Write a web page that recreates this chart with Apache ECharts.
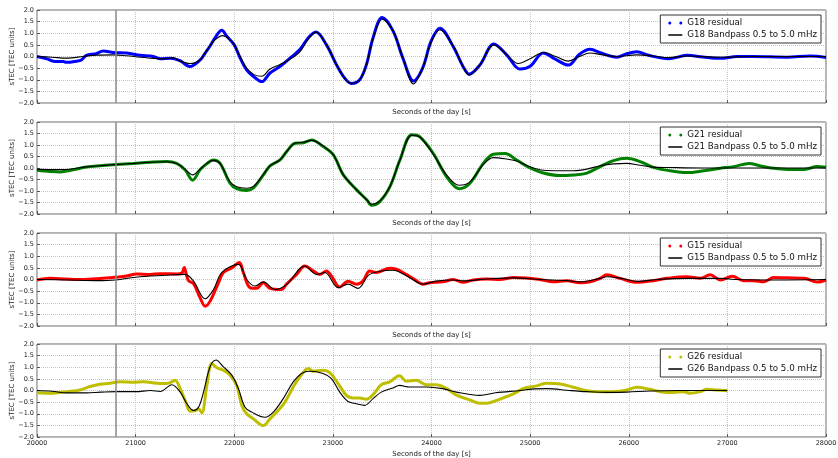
<!DOCTYPE html>
<html>
<head>
<meta charset="utf-8">
<script src="https://cdn.jsdelivr.net/npm/echarts@6/dist/echarts.min.js"></script>
<style>
  html, body { margin: 0; padding: 0; background: #fff; }
  #chart { width: 838px; height: 458px; }
</style>
</head>
<body>
<div id="chart"></div>
<script>
// Satellites (PRN) shown, one panel each, top to bottom
const prns = ['G18', 'G21', 'G15', 'G26'];
const residualColors = ['#0000ff', '#008000', '#ff0000', '#bfbf00'];

// Axis ranges / tick steps
const xMin = 20000, xMax = 28000, xStep = 1000;
const yMin = -2.0, yMax = 2.0, yStep = 0.5;

// Reference epoch marked in every panel
const eventTime = 20800;

// [seconds of day, sTEC residual in TEC units]
const g18Residual = [
  [20000,0.0],[20100,-0.1],[20165,-0.2],[20267,-0.22],[20300,-0.25],[20400,-0.2],[20450,-0.15],
  [20500,0.05],[20600,0.12],[20670,0.24],[20775,0.17],[20910,0.15],[21045,0.05],[21180,0.0],
  [21250,-0.1],[21350,-0.07],[21450,-0.18],[21550,-0.43],[21655,-0.15],[21705,0.15],[21755,0.45],
  [21805,0.8],[21873,1.13],[21925,0.87],[22000,0.5],[22060,-0.07],[22125,-0.57],[22195,-0.86],
  [22280,-1.08],[22360,-0.72],[22463,-0.43],[22565,-0.07],[22665,0.3],[22750,0.8],[22828,1.05],
  [22935,0.5],[23036,-0.35],[23120,-0.93],[23188,-1.16],[23272,-1.0],[23340,-0.35],[23407,0.8],
  [23500,1.68],[23610,1.1],[23710,-0.07],[23818,-1.05],[23910,-0.5],[23995,0.65],[24085,1.22],
  [24220,0.43],[24321,-0.44],[24382,-0.76],[24490,-0.37],[24633,0.54],[24762,0.07],[24897,-0.54],
  [25000,-0.42],[25134,0.15],[25250,-0.1],[25388,-0.37],[25500,0.1],[25608,0.31],[25720,0.15],
  [25879,-0.03],[25980,0.12],[26082,0.2],[26200,0.05],[26403,-0.1],[26590,0.05],[26750,-0.02],
  [26928,-0.08],[27100,0.0],[27266,0.0],[27605,-0.03],[27840,0.02],[28000,-0.04]
];
const g18Bandpass = [
  [20000,0.0],[20150,-0.03],[20300,-0.07],[20470,0.0],[20600,0.06],[20775,0.07],[20910,0.03],
  [21045,-0.03],[21180,-0.08],[21280,-0.1],[21380,-0.05],[21450,-0.2],[21550,-0.3],[21650,-0.15],
  [21750,0.45],[21800,0.7],[21880,0.9],[21950,0.75],[22000,0.5],[22060,0.0],[22125,-0.5],
  [22200,-0.78],[22280,-0.85],[22360,-0.55],[22460,-0.35],[22565,-0.12],[22665,0.2],[22750,0.75],
  [22830,1.05],[22935,0.5],[23036,-0.35],[23120,-0.95],[23188,-1.15],[23272,-1.0],[23340,-0.35],
  [23407,0.75],[23500,1.6],[23610,1.1],[23710,-0.07],[23818,-1.18],[23910,-0.5],[23995,0.6],
  [24085,1.15],[24220,0.45],[24321,-0.45],[24382,-0.8],[24490,-0.35],[24633,0.5],[24762,0.08],
  [24880,-0.3],[25000,-0.1],[25134,0.17],[25260,0.0],[25388,-0.2],[25500,0.0],[25608,0.15],
  [25720,0.08],[25879,0.0],[26082,0.07],[26250,0.02],[26403,-0.05],[26590,0.02],[26930,-0.03],
  [27266,0.0],[28000,0.0]
];

const g21Residual = [
  [20000,-0.1],[20132,-0.15],[20233,-0.17],[20368,-0.08],[20500,0.04],[20640,0.1],[20800,0.15],
  [20977,0.2],[21146,0.25],[21315,0.28],[21416,0.2],[21500,-0.08],[21578,-0.53],[21653,-0.08],
  [21720,0.18],[21788,0.35],[21855,0.21],[21957,-0.66],[22025,-0.9],[22126,-0.98],[22194,-0.87],
  [22295,-0.3],[22363,0.09],[22464,0.35],[22532,0.72],[22616,1.08],[22700,1.1],[22785,1.22],
  [22903,0.93],[23005,0.57],[23106,-0.3],[23241,-0.95],[23343,-1.38],[23393,-1.62],[23478,-1.45],
  [23580,-0.8],[23680,0.35],[23800,1.45],[23880,1.36],[24017,0.64],[24152,-0.37],[24280,-0.9],
  [24390,-0.66],[24525,0.2],[24627,0.6],[24745,0.63],[24863,0.35],[25000,0.0],[25134,-0.22],
  [25303,-0.33],[25440,-0.3],[25575,-0.22],[25710,0.06],[25845,0.32],[25980,0.42],[26115,0.28],
  [26250,0.03],[26420,-0.12],[26590,-0.2],[26760,-0.12],[26930,-0.01],[27065,0.06],[27220,0.2],
  [27335,0.09],[27470,-0.01],[27605,-0.06],[27780,-0.06],[27910,0.06],[28000,0.03]
];
const g21Bandpass = [
  [20000,-0.05],[20132,-0.07],[20233,-0.07],[20368,-0.03],[20500,0.05],[20640,0.1],[20800,0.15],
  [20977,0.2],[21146,0.25],[21315,0.27],[21416,0.2],[21500,-0.05],[21578,-0.3],[21653,-0.05],
  [21720,0.2],[21788,0.33],[21855,0.2],[21957,-0.6],[22025,-0.82],[22126,-0.88],[22194,-0.8],
  [22295,-0.28],[22363,0.1],[22464,0.35],[22532,0.72],[22616,1.08],[22700,1.12],[22785,1.2],
  [22903,0.95],[23005,0.57],[23106,-0.3],[23241,-0.95],[23343,-1.38],[23393,-1.58],[23478,-1.42],
  [23580,-0.78],[23680,0.35],[23800,1.42],[23880,1.35],[24017,0.6],[24152,-0.3],[24280,-0.75],
  [24390,-0.6],[24525,0.15],[24627,0.45],[24745,0.4],[24863,0.3],[25000,0.05],[25134,-0.1],
  [25303,-0.12],[25440,-0.12],[25575,-0.05],[25710,0.1],[25845,0.18],[25980,0.2],[26115,0.12],
  [26250,0.04],[26420,0.02],[26760,0.0],[27220,0.0],[28000,0.0]
];

const g15Residual = [
  [20000,-0.02],[20132,0.05],[20300,0.02],[20470,0.0],[20640,0.04],[20800,0.1],[20910,0.15],
  [21010,0.24],[21146,0.22],[21250,0.25],[21420,0.24],[21470,0.28],[21493,0.52],[21515,0.2],
  [21536,-0.05],[21587,-0.18],[21654,-0.79],[21705,-1.15],[21755,-0.93],[21840,-0.14],[21890,0.3],
  [21975,0.5],[22052,0.73],[22092,0.3],[22160,-0.35],[22227,-0.38],[22295,-0.14],[22362,-0.38],
  [22480,-0.43],[22530,-0.2],[22632,0.22],[22716,0.58],[22800,0.37],[22868,0.22],[22935,0.37],
  [22985,0.15],[23070,-0.32],[23154,-0.07],[23238,-0.2],[23305,-0.07],[23373,0.37],[23440,0.3],
  [23575,0.48],[23643,0.44],[23744,0.22],[23828,0.0],[23912,-0.2],[23980,-0.14],[24114,-0.1],
  [24220,0.0],[24321,-0.12],[24423,-0.02],[24558,0.02],[24694,0.0],[24830,0.09],[24965,0.06],
  [25100,0.0],[25236,-0.1],[25370,-0.05],[25507,-0.14],[25608,-0.1],[25710,0.05],[25777,0.2],
  [25912,0.05],[26080,-0.12],[26250,-0.05],[26386,0.05],[26590,0.12],[26725,0.05],[26825,0.2],
  [26930,-0.02],[27050,0.14],[27165,-0.05],[27266,-0.05],[27370,-0.1],[27470,0.09],[27605,0.07],
  [27780,0.05],[27910,-0.11],[28000,-0.02]
];
const g15Bandpass = [
  [20000,0.0],[20300,-0.02],[20600,-0.05],[20800,-0.02],[21000,0.1],[21300,0.18],[21500,0.22],
  [21587,-0.07],[21705,-0.83],[21790,-0.43],[21873,0.3],[22042,0.65],[22126,0.0],[22210,-0.28],
  [22295,-0.1],[22413,-0.43],[22530,-0.22],[22716,0.58],[22834,0.22],[22918,0.3],[23053,-0.35],
  [23154,-0.2],[23255,-0.38],[23373,0.22],[23609,0.4],[23777,0.08],[23912,-0.2],[24047,-0.07],
  [24220,-0.02],[24321,-0.06],[24558,0.02],[24830,0.07],[25100,0.0],[25370,-0.05],[25500,-0.1],
  [25710,0.05],[25777,0.12],[25950,0.03],[26080,-0.08],[26300,0.0],[26600,0.05],[26930,0.05],
  [27100,0.0],[27500,-0.02],[28000,0.0]
];

const g26Residual = [
  [20000,-0.1],[20132,-0.12],[20300,-0.05],[20436,0.02],[20537,0.17],[20640,0.27],[20740,0.31],
  [20842,0.38],[20977,0.35],[21078,0.38],[21213,0.31],[21300,0.3],[21350,0.34],[21400,0.44],
  [21452,0.08],[21503,-0.43],[21553,-0.89],[21604,-0.86],[21638,-0.79],[21671,-0.96],[21722,0.22],
  [21772,1.16],[21823,0.98],[21890,0.87],[21958,0.66],[22025,0.22],[22076,-0.64],[22126,-1.0],
  [22194,-1.22],[22295,-1.51],[22362,-1.22],[22430,-0.93],[22514,-0.5],[22598,0.15],[22665,0.58],
  [22750,0.95],[22800,0.83],[22901,0.87],[22969,0.77],[23053,0.3],[23137,-0.21],[23205,-0.32],
  [23272,-0.32],[23339,-0.38],[23407,-0.18],[23491,0.25],[23575,0.37],[23676,0.63],[23744,0.4],
  [23845,0.44],[23946,0.25],[24047,0.25],[24152,0.09],[24254,-0.2],[24390,-0.41],[24490,-0.55],
  [24558,-0.55],[24694,-0.37],[24830,-0.15],[24931,0.09],[25066,0.2],[25168,0.31],[25303,0.28],
  [25440,0.14],[25575,-0.01],[25710,-0.05],[25845,-0.05],[25980,0.02],[26080,0.14],[26216,0.05],
  [26318,-0.05],[26453,-0.09],[26555,-0.05],[26623,-0.12],[26725,-0.05],[26792,0.05],[26893,0.02],
  [27000,-0.01]
];
const g26Bandpass = [
  [20000,0.0],[20150,-0.03],[20300,-0.1],[20500,-0.1],[20650,-0.07],[20800,-0.05],[21000,-0.05],
  [21150,0.0],[21250,-0.04],[21368,0.25],[21452,-0.07],[21520,-0.57],[21587,-0.86],[21638,-0.72],
  [21688,-0.07],[21755,1.02],[21816,1.31],[21890,1.02],[21975,0.66],[22042,0.08],[22109,-0.72],
  [22177,-0.93],[22312,-1.15],[22396,-0.93],[22497,-0.35],[22598,0.37],[22682,0.73],[22766,0.83],
  [22901,0.73],[22985,0.51],[23070,-0.07],[23154,-0.47],[23238,-0.57],[23322,-0.64],[23407,-0.35],
  [23491,-0.07],[23609,0.11],[23676,0.22],[23777,0.15],[23946,0.15],[24114,0.08],[24254,-0.07],
  [24490,-0.21],[24650,-0.1],[24900,0.0],[25050,0.07],[25170,0.08],[25400,0.0],[25575,-0.05],
  [25780,-0.08],[25980,-0.07],[26216,-0.02],[26500,0.0],[27000,0.0]
];

const residuals = [g18Residual, g21Residual, g15Residual, g26Residual];
const bandpassed = [g18Bandpass, g21Bandpass, g15Bandpass, g26Bandpass];

// Panel placement (pixels)
const panelTops = [10, 122, 233, 344];
const panelHeights = [93, 92, 93, 93];
const FONT = 'DejaVu Sans';

// Legend glyphs: two dots for the sampled residual, a short bar for the filtered curve
const dotsIcon = 'path://M0,1.5a1.5,1.5 0 1,0 3,0a1.5,1.5 0 1,0 -3,0Z M11,1.5a1.5,1.5 0 1,0 3,0a1.5,1.5 0 1,0 -3,0Z';
const barIcon = 'path://M0,0L0.01,0L0.01,0.01Z M13.99,2.99L14,2.99L14,3Z M0,0.85H14V2.15H0Z';

const fmtY = v => v.toFixed(1).replace('-', '\u2212');
const fmtX = v => String(Math.round(v));

const grids = [], xAxes = [], yAxes = [], legends = [], series = [];

prns.forEach((prn, i) => {
  const last = i === prns.length - 1;
  grids.push({
    left: 37, right: 12, top: panelTops[i], height: panelHeights[i],
    outerBoundsMode: 'none', containLabel: false,
    show: true, borderColor: '#666', borderWidth: 1, backgroundColor: 'transparent'
  });
  xAxes.push({
    type: 'value', gridIndex: i, min: xMin, max: xMax, interval: xStep,
    position: 'bottom',
    name: 'Seconds of the day [s]', nameLocation: 'middle', nameGap: last ? 14 : 6,
    nameMoveOverlap: false,
    nameTextStyle: { fontFamily: FONT, fontSize: 7, color: '#222' },
    axisLine: { show: false, onZero: false },
    axisTick: { show: true, inside: true, length: 3, lineStyle: { color: '#555' } },
    axisLabel: { show: last, fontFamily: FONT, fontSize: 6.5, color: '#222', margin: 3, formatter: fmtX },
    splitLine: { show: true, lineStyle: { color: '#c4c4c4', type: 'dotted', width: 1 } }
  });
  yAxes.push({
    type: 'value', gridIndex: i, min: yMin, max: yMax, interval: yStep,
    position: 'left',
    name: 'sTEC [TEC units]', nameLocation: 'middle', nameGap: 21, nameRotate: 90,
    nameMoveOverlap: false,
    nameTextStyle: { fontFamily: FONT, fontSize: 7, color: '#222' },
    axisLine: { show: false, onZero: false },
    axisTick: { show: true, inside: true, length: 3, lineStyle: { color: '#555' } },
    axisLabel: { fontFamily: FONT, fontSize: 6.5, color: '#222', margin: 3, formatter: fmtY },
    splitLine: { show: true, lineStyle: { color: '#c4c4c4', type: 'dotted', width: 1 } }
  });

  const resName = prn + ' residual';
  const bpName = prn + ' Bandpass 0.5 to 5.0 mHz';
  legends.push({
    right: 17, top: panelTops[i] + 5, orient: 'vertical',
    data: [{ name: resName, icon: dotsIcon }, { name: bpName, icon: barIcon }],
    itemWidth: 14, itemHeight: 3, itemGap: 2, itemTextGap: 8,
    padding: [3, 4, 3, 8],
    backgroundColor: '#fff', borderColor: '#333', borderWidth: 1, borderRadius: 0,
    itemStyle: { borderWidth: 0 },
    textStyle: { fontFamily: FONT, fontSize: 8.7, color: '#111', lineHeight: 10 },
    selectedMode: false
  });

  series.push({
    name: resName, type: 'line', xAxisIndex: i, yAxisIndex: i,
    data: residuals[i], smooth: 0.35, showSymbol: false, symbol: 'none',
    color: residualColors[i], itemStyle: { color: residualColors[i] },
    lineStyle: { color: residualColors[i], width: 3 },
    z: 2, silent: true,
    markLine: {
      silent: true, symbol: 'none', label: { show: false },
      lineStyle: { color: '#8a8a8a', width: 1.5, type: 'solid' },
      data: [{ xAxis: eventTime }]
    }
  });
  series.push({
    name: bpName, type: 'line', xAxisIndex: i, yAxisIndex: i,
    data: bandpassed[i], smooth: 0.35, showSymbol: false, symbol: 'none',
    color: '#000', itemStyle: { color: '#000' },
    lineStyle: { color: '#000', width: 1.1 },
    z: 3, silent: true
  });
});

const chart = echarts.init(document.getElementById('chart'), null, { renderer: 'canvas' });
chart.setOption({
  animation: false,
  backgroundColor: '#fff',
  grid: grids, xAxis: xAxes, yAxis: yAxes, legend: legends, series: series
});
</script>
</body>
</html>
